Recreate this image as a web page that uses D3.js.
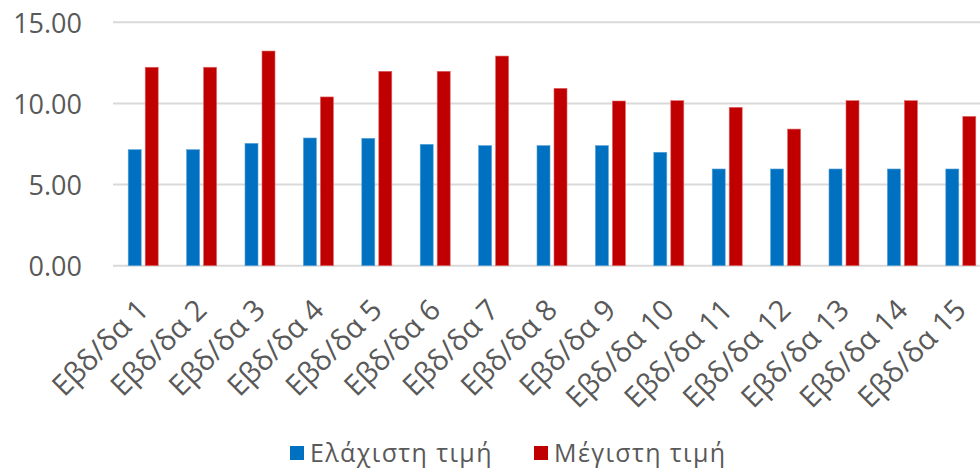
<!DOCTYPE html>
<html>
<head>
<meta charset="utf-8">
<script src="https://cdn.jsdelivr.net/npm/d3@7/dist/d3.min.js"></script>
<style>
  html, body { margin: 0; padding: 0; background: #fff; }
  svg text { font-family: "Open Sans", "Noto Sans", sans-serif; }
</style>
</head>
<body>
<svg id="chart" width="980" height="473"></svg>
<script>
// Weekly price ranges
const categories = ["Εβδ/δα 1","Εβδ/δα 2","Εβδ/δα 3","Εβδ/δα 4","Εβδ/δα 5","Εβδ/δα 6","Εβδ/δα 7","Εβδ/δα 8","Εβδ/δα 9","Εβδ/δα 10","Εβδ/δα 11","Εβδ/δα 12","Εβδ/δα 13","Εβδ/δα 14","Εβδ/δα 15"];
const minValues = [7.15, 7.15, 7.54, 7.87, 7.85, 7.48, 7.40, 7.40, 7.40, 6.99, 5.96, 5.96, 5.96, 5.96, 5.96];
const maxValues = [12.23, 12.23, 13.23, 10.40, 11.98, 11.98, 12.92, 10.93, 10.15, 10.17, 9.76, 8.42, 10.17, 10.17, 9.20];
const seriesNames = ["Ελάχιστη τιμή", "Μέγιστη τιμή"];
const seriesColors = ["#0070C0", "#C00000"];
const yTicks = [0, 5, 10, 15];

const svg = d3.select("#chart");
const plot = { left: 114, right: 990, top: 22.3, bottom: 265.7 };
const font = "'Open Sans', 'Noto Sans', sans-serif";
const textColor = "#595959";

const x = d3.scaleBand().domain(categories).range([plot.left, plot.right]).paddingInner(0).paddingOuter(0);
const y = d3.scaleLinear().domain([0, 15]).range([plot.bottom, plot.top]);

// Y labels
const yAxis = d3.axisLeft(y).tickValues(yTicks).tickSize(0).tickPadding(0)
  .tickFormat(d3.format(".2f"));
const gy = svg.append("g").attr("transform", `translate(82,0)`).call(yAxis);
gy.attr("font-family", font);
gy.select(".domain").remove();
gy.selectAll("text").attr("fill", textColor).attr("font-size", 27).attr("dy", "0.36em");

// Horizontal gridlines
svg.append("g").selectAll("line").data(yTicks).join("line")
  .attr("x1", 113).attr("x2", 980)
  .attr("y1", d => y(d)).attr("y2", d => y(d))
  .attr("stroke", "#d9d9d9").attr("stroke-width", 2);

// Bars: two per week, min on the left, max on the right
const barW = 13, gap = 4;
const series = [minValues, maxValues];
series.forEach((vals, si) => {
  svg.append("g").selectAll("rect").data(vals).join("rect")
    .attr("x", (d, i) => x(categories[i]) + x.bandwidth() / 2 + (si === 0 ? -gap / 2 - barW : gap / 2))
    .attr("width", barW)
    .attr("y", d => y(d))
    .attr("height", d => y(0) - y(d))
    .attr("fill", seriesColors[si])
    .attr("stroke", si === 0 ? "#5aa3d8" : "#e06666")
    .attr("stroke-width", 0.6);
});

// Category labels, rotated
const xAxis = d3.axisBottom(x).tickSize(0).tickPadding(0);
const gx = svg.append("g").attr("transform", `translate(0,${plot.bottom})`).call(xAxis);
gx.attr("font-family", font);
gx.select(".domain").remove();
gx.selectAll("text")
  .attr("fill", textColor).attr("font-size", 29)
  .attr("text-anchor", "end")
  .attr("dy", null)
  .attr("y", 0)
  .attr("transform", "translate(7,46) rotate(-45)");

// Legend
const legend = svg.append("g").attr("font-family", font);
const legendX = [290, 534];
seriesNames.forEach((name, i) => {
  const g = legend.append("g").attr("transform", `translate(${legendX[i]},0)`);
  g.append("rect").attr("x", 0).attr("y", 446).attr("width", 14).attr("height", 14).attr("fill", seriesColors[i]);
  g.append("text").attr("x", 20).attr("y", 462).attr("font-size", 25)
    .attr("letter-spacing", 1.4).attr("fill", textColor).text(name);
});
</script>
</body>
</html>
